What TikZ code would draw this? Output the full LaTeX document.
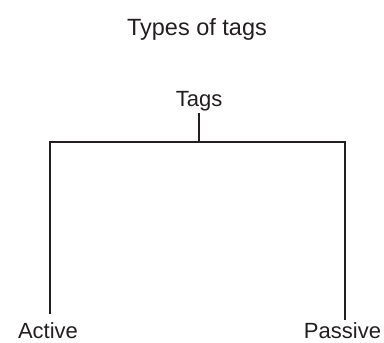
\documentclass[tikz,border=0pt]{standalone}
\usepackage{fontspec}
\setmainfont{Liberation Sans}
\usetikzlibrary{positioning}
\definecolor{inkgray}{HTML}{231F20}
\tikzset{
  lbl/.style={font=\fontsize{22}{26}\selectfont, text=inkgray, inner sep=2pt},
  branch/.style={draw=inkgray, line width=2.3pt}
}
\begin{document}
\begin{tikzpicture}[x=1pt, y=1pt]
  \useasboundingbox (0,0) rectangle (384,343);

  % title
  \node[lbl, font=\fontsize{23.5}{28}\selectfont] (title) at (197,314) {Types of tags};

  % root and leaves
  \node[lbl] (tags) at (199,242) {Tags};
  \node[lbl, anchor=base] (active) at (48,4.5) {Active};
  \node[lbl, anchor=base] (passive) at (342.5,4.5) {Passive};

  % bar
  \coordinate (bar) at (199,201);
  \coordinate (barL) at (50,201);
  \coordinate (barR) at (345,201);

  \draw[branch] (tags.south) -- (bar);
  \draw[branch, shorten <=6pt] (barL |- active.north) -- (barL) -- (barR) -- (barR |- passive.north);
\end{tikzpicture}
\end{document}
